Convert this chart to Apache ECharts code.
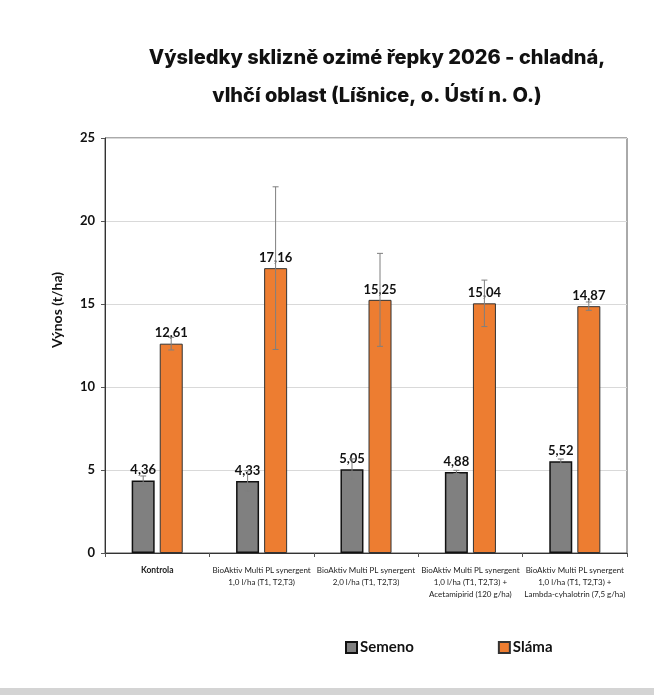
<!DOCTYPE html>
<html>
<head>
    <meta charset="utf-8">
    <title>Výsledky sklizně ozimé řepky 2026</title>
    <script src="https://cdn.jsdelivr.net/npm/echarts@6/dist/echarts.min.js"></script>
    <style>
        html, body { margin: 0; padding: 0; background: #fff; }
        #chart { width: 654px; height: 695px; }
    </style>
</head>
<body>
<div id="chart"></div>
<script>
    // data
    var categories = [
        'Kontrola',
        'BioAktiv Multi PL synergent\n1,0 l/ha (T1, T2,T3)',
        'BioAktiv Multi PL synergent\n2,0 l/ha (T1, T2,T3)',
        'BioAktiv Multi PL synergent\n1,0 l/ha (T1, T2,T3) +\nAcetamipirid (120 g/ha)',
        'BioAktiv Multi PL synergent\n1,0 l/ha (T1, T2,T3) +\nLambda-cyhalotrin (7,5 g/ha)'
    ];
    var semeno = [4.36, 4.33, 5.05, 4.88, 5.52];
    var slama = [12.61, 17.16, 15.25, 15.04, 14.87];
    // +/- error (t/ha)
    var semenoErr = [0.28, 0.62, 0.62, 0.1, 0.14];
    var slamaErr = [0.38, 4.9, 2.8, 1.4, 0.25];
    var yTicks = [0, 5, 10, 15, 20, 25];

    var chart = echarts.init(document.getElementById('chart'));

    function errData(vals, errs) {
        return vals.map(function (v, i) {
            return [i, v - errs[i], v + errs[i]];
        });
    }

    // draws one error bar, shifted to sit on its bar
    function errRender(offset) {
        return function (params, api) {
            var i = api.value(0);
            var lo = api.coord([i, api.value(1)]);
            var hi = api.coord([i, api.value(2)]);
            var x = lo[0] + offset;
            var st = {stroke: '#7f7f7f', lineWidth: 1};
            return {
                type: 'group',
                children: [
                    {type: 'line', shape: {x1: x, y1: lo[1], x2: x, y2: hi[1]}, style: st},
                    {type: 'line', shape: {x1: x - 3, y1: lo[1], x2: x + 3, y2: lo[1]}, style: st},
                    {type: 'line', shape: {x1: x - 3, y1: hi[1], x2: x + 3, y2: hi[1]}, style: st}
                ]
            };
        };
    }

    var numLabel = {
        show: true,
        position: 'top',
        distance: 4,
        color: '#111',
        fontFamily: 'Lato',
        fontWeight: 'bold',
        fontSize: 13,
        formatter: function (p) {
            return p.value.toFixed(2).replace('.', ',');
        }
    };

    var option = {
        animation: false,
        backgroundColor: '#fff',
        title: {
            text: 'Výsledky sklizně ozimé řepky 2026 - chladná,\nvlhčí oblast (Líšnice, o. Ústí n. O.)',
            left: 372,
            textAlign: 'center',
            top: 34,
            textStyle: {
                fontFamily: 'Inter',
                fontWeight: 800,
                fontSize: 20,
                lineHeight: 38,
                color: '#111'
            }
        },
        legend: {
            data: ['Semeno', 'Sláma'],
            left: 340,
            top: 635,
            itemWidth: 11,
            itemHeight: 11,
            itemGap: 84,
            icon: 'rect',
            textStyle: {
                fontFamily: 'Lato',
                fontWeight: 'bold',
                fontSize: 15,
                color: '#111',
                padding: [0, 0, 0, -2]
            }
        },
        grid: {
            left: 105,
            right: 27,
            top: 138,
            bottom: 142,
            show: true,
            borderColor: '#555',
            borderWidth: 1
        },
        xAxis: {
            type: 'category',
            data: categories,
            axisLine: {lineStyle: {color: '#333'}},
            axisTick: {show: true, length: 4, lineStyle: {color: '#555'}},
            axisLabel: {
                interval: 0,
                margin: 11,
                fontFamily: 'Lato',
                fontSize: 8,
                lineHeight: 12,
                color: '#222',
                formatter: function (v) {
                    return v === 'Kontrola' ? '{b|' + v + '}' : v;
                },
                rich: {
                    b: {fontFamily: 'Lato', fontWeight: 'bold', fontSize: 8.5, color: '#222'}
                }
            }
        },
        yAxis: {
            type: 'value',
            min: yTicks[0],
            max: yTicks[yTicks.length - 1],
            interval: 5,
            axisLine: {show: true, lineStyle: {color: '#333'}},
            axisTick: {show: true, length: 4, lineStyle: {color: '#555'}},
            axisLabel: {
                margin: 10,
                fontFamily: 'Lato',
                fontWeight: 'bold',
                fontSize: 13,
                color: '#111'
            },
            splitLine: {lineStyle: {color: '#d9d9d9'}}
        },
        graphic: [
            {
                type: 'text',
                x: 57,
                y: 310,
                rotation: Math.PI / 2,
                style: {
                    text: 'Výnos (t/ha)',
                    fontFamily: 'Lato',
                    fontWeight: 'bold',
                    fontSize: 14,
                    fill: '#111',
                    textAlign: 'center',
                    textVerticalAlign: 'middle'
                }
            },
            {
                type: 'rect',
                left: 0,
                top: 688,
                shape: {width: 654, height: 7},
                style: {fill: '#d4d4d4'}
            }
        ],
        series: [
            {
                name: 'Semeno',
                type: 'bar',
                data: semeno,
                barWidth: 23,
                barGap: '22%',
                itemStyle: {color: '#808080', borderColor: '#111', borderWidth: 1.5},
                label: numLabel
            },
            {
                name: 'Sláma',
                type: 'bar',
                data: slama,
                barWidth: 23,
                itemStyle: {color: '#ed7d31', borderColor: '#333', borderWidth: 1},
                label: numLabel
            },
            {
                name: 'errSemeno',
                type: 'custom',
                data: errData(semeno, semenoErr),
                renderItem: errRender(-14),
                encode: {x: 0, y: [1, 2]},
                z: 5
            },
            {
                name: 'errSlama',
                type: 'custom',
                data: errData(slama, slamaErr),
                renderItem: errRender(14),
                encode: {x: 0, y: [1, 2]},
                z: 5
            }
        ]
    };

    chart.setOption(option);
</script>
</body>
</html>
